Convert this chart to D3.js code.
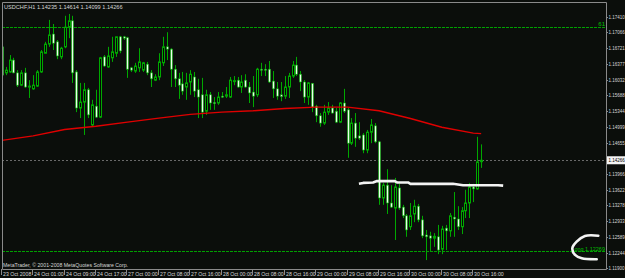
<!DOCTYPE html>
<html>
<head>
<meta charset="utf-8">
<script src="https://cdn.jsdelivr.net/npm/d3@7"></script>
<style>
    body { margin: 0; background: #0b0e0b; }
    svg { display: block; }
    text { font-family: "Liberation Sans", Arial, sans-serif; }
</style>
</head>
<body>
<svg id="chart" width="625" height="278"></svg>
<script>
// USDCHF H1, 23 Oct 2008 17:00 -> 30 Oct 2008 18:00 (one entry per bar)
const barOpen = [
    1.1675,1.1618,1.1620,1.1646,1.1618,1.1591,1.1618,1.1587,1.1583,1.1589,
    1.1620,1.1661,1.1681,1.1703,1.1686,1.1653,1.1675,1.1718,1.1732,1.1620,
    1.1541,1.1554,1.1581,1.1504,1.1545,1.1521,1.1653,1.1631,1.1651,1.1661,
    1.1697,1.1697,1.1695,1.1629,1.1622,1.1629,1.1624,1.1637,1.1618,1.1602,
    1.1609,1.1640,1.1675,1.1670,1.1626,1.1605,1.1594,1.1587,1.1598,1.1609,
    1.1581,1.1570,1.1534,1.1570,1.1553,1.1552,1.1567,1.1567,1.1565,1.1600,
    1.1602,1.1587,1.1602,1.1587,1.1576,1.1570,1.1626,1.1626,1.1626,1.1600,
    1.1583,1.1570,1.1567,1.1587,1.1611,1.1635,1.1615,1.1598,1.1565,1.1595,
    1.1545,1.1524,1.1508,1.1532,1.1541,1.1534,1.1510,1.1552,1.1537,1.1464,
    1.1508,1.1480,1.1482,1.1449,1.1488,1.1502,1.1467,1.1344,1.1372,1.1333,
    1.1322,1.1366,1.1324,1.1305,1.1281,1.1309,1.1326,1.1296,1.1263,1.1261,
    1.1256,1.1259,1.1232,1.1278,1.1272,1.1302,1.1298,1.1281,1.1316,1.1333,
    1.1368,1.1364,1.14235
];
const barHigh = [
    1.1686,1.1631,1.1657,1.1651,1.1624,1.1624,1.1629,1.1602,1.1613,1.1624,
    1.1668,1.1686,1.1734,1.1725,1.1690,1.1675,1.1743,1.1747,1.1743,1.1624,
    1.1596,1.1596,1.1585,1.1559,1.1581,1.1653,1.1657,1.1675,1.1697,1.1697,
    1.1699,1.1699,1.1697,1.1631,1.1640,1.1672,1.1642,1.1642,1.1624,1.1615,
    1.1661,1.1697,1.1707,1.1672,1.1635,1.1618,1.1620,1.1618,1.1624,1.1620,
    1.1605,1.1607,1.1581,1.1576,1.1565,1.1576,1.1576,1.1587,1.1609,1.1611,
    1.1609,1.1613,1.1615,1.1598,1.1611,1.1629,1.1640,1.1637,1.1644,1.1622,
    1.1598,1.1598,1.1611,1.1618,1.1644,1.1653,1.1622,1.1602,1.1598,1.1596,
    1.1548,1.1530,1.1548,1.1554,1.1548,1.1541,1.1554,1.1583,1.1541,1.1519,
    1.1530,1.1510,1.1486,1.1493,1.1517,1.1508,1.1469,1.1377,1.1407,1.1372,
    1.1388,1.1375,1.1329,1.1309,1.1333,1.1340,1.1331,1.1305,1.1274,1.1270,
    1.1267,1.1285,1.1283,1.1285,1.1311,1.1357,1.1326,1.1324,1.1362,1.1377,
    1.1375,1.1478,1.14614
];
const barLow = [
    1.1611,1.1613,1.1618,1.1617,1.1587,1.1589,1.1585,1.1563,1.1581,1.1587,
    1.1618,1.1661,1.1675,1.1668,1.1648,1.1648,1.1672,1.1694,1.1596,1.1532,
    1.1519,1.1482,1.1519,1.1500,1.1519,1.1519,1.1631,1.1629,1.1642,1.1653,
    1.1661,1.1690,1.1607,1.1620,1.1618,1.1620,1.1620,1.1613,1.1587,1.1600,
    1.1602,1.1633,1.1646,1.1587,1.1587,1.1561,1.1570,1.1559,1.1570,1.1565,
    1.1519,1.1519,1.1526,1.1537,1.1537,1.1548,1.1563,1.1563,1.1563,1.1591,
    1.1585,1.1574,1.1585,1.1552,1.1543,1.1565,1.1611,1.1611,1.1596,1.1563,
    1.1559,1.1556,1.1561,1.1563,1.1607,1.1611,1.1578,1.1552,1.1548,1.1532,
    1.1510,1.1500,1.1504,1.1526,1.1529,1.1508,1.1508,1.1530,1.1432,1.1460,
    1.1456,1.1471,1.1442,1.1442,1.1464,1.1464,1.1329,1.1329,1.1309,1.1322,
    1.1252,1.1318,1.1300,1.1259,1.1274,1.1291,1.1291,1.1256,1.1208,1.1228,
    1.1237,1.1221,1.1221,1.1230,1.1259,1.1259,1.1274,1.1265,1.1300,1.1300,
    1.1335,1.1362,1.14099
];
const barClose = [
    1.1613,1.1624,1.1646,1.1618,1.1591,1.1618,1.1587,1.1589,1.1591,1.1620,
    1.1664,1.1681,1.1701,1.1683,1.1655,1.1672,1.1718,1.1732,1.1618,1.1541,
    1.1554,1.1581,1.1526,1.1548,1.1521,1.1651,1.1633,1.1655,1.1664,1.1697,
    1.1666,1.1694,1.1626,1.1624,1.1633,1.1642,1.1640,1.1618,1.1605,1.1609,
    1.1642,1.1675,1.1670,1.1626,1.1605,1.1591,1.1578,1.1596,1.1615,1.1578,
    1.1565,1.1532,1.1570,1.1552,1.1551,1.1565,1.1565,1.1570,1.1602,1.1601,
    1.1587,1.1598,1.1587,1.1574,1.1567,1.1626,1.1625,1.1624,1.1598,1.1583,
    1.1567,1.1566,1.1587,1.1611,1.1635,1.1615,1.1598,1.1565,1.1596,1.1543,
    1.1524,1.1508,1.1532,1.1541,1.1530,1.1510,1.1552,1.1534,1.1464,1.1508,
    1.1475,1.1475,1.1449,1.1488,1.1504,1.1467,1.1344,1.1372,1.1333,1.1324,
    1.1368,1.1322,1.1305,1.1274,1.1305,1.1326,1.1296,1.1261,1.1259,1.1256,
    1.1260,1.1230,1.1276,1.1272,1.1305,1.1298,1.1281,1.1316,1.1333,1.1368,
    1.1364,1.1423,1.14266
];

// moving average (red), read every 8 bars
const maBars   = [0, 8, 16, 24, 32, 40, 48, 56, 64, 72, 80, 88, 96, 104, 112, 120, 122];
const maValues = [1.1470,1.1480,1.1494,1.1501,1.1510,1.1519,1.1527,1.1532,1.1535,
                  1.1540,1.1543,1.1543,1.1535,1.1518,1.1499,1.1486,1.1485];

// hand drawn neckline (white)
const neckBars   = [90.9, 92, 94.5, 95.5, 100, 100.6, 103.4, 104, 114.8, 117.4, 126.3, 127.6];
const neckPrices = [1.1375,1.1377,1.1378,1.1381,1.1381,1.1378,1.1378,1.1375,1.1375,1.1372,1.1372,1.1371];

// hand drawn hook near the right edge
const hookBars   = [151.8, 148.4, 146.3, 145.2, 145.9, 147.6, 151.4];
const hookPrices = [1.12614,1.12608,1.12483,1.12338,1.12192,1.12119,1.12098];

// horizontal levels
const bidPrice = 1.14266;
const longPrice = 1.12269;
const fiboPrice = 1.17178;

// axes
const priceTicks = [1.17410,1.17066,1.16721,1.16377,1.16032,1.15688,1.15344,1.14999,
                    1.14655,1.14311,1.13966,1.13622,1.13278,1.12933,1.12589,1.12244,1.11900];
const timeTickBars = [0, 8, 16, 24, 32, 40, 48, 56, 64, 72, 80, 88, 96, 104, 112, 120];
const timeTickLabels = ["23 Oct 2008","24 Oct 01:00","24 Oct 09:00","24 Oct 17:00",
    "27 Oct 00:00","27 Oct 08:00","27 Oct 16:00","28 Oct 00:00","28 Oct 08:00",
    "28 Oct 16:00","29 Oct 00:00","29 Oct 08:00","29 Oct 16:00","30 Oct 00:00",
    "30 Oct 08:00","30 Oct 16:00"];

const titleText = "USDCHF,H1  1.14235 1.14614 1.14099 1.14266";
const copyText = "MetaTrader, \u00A9 2001-2008 MetaQuotes Software Corp.";

/** Class drawing the MetaTrader style candle chart. */
class CandleChart {
    constructor() {
        this.svg = d3.select('#chart');
        this.frame = {left: 2, top: 2, right: 606, bottom: 269};
        this.bodyWidth = 3;

        this.colors = {
            bg: '#0b0e0b',
            frame: '#8a8a8a',
            wick: '#00a800',
            bullFill: '#050805',
            bearFill: '#eaffea',
            ma: '#e00000',
            text: '#d6d6d6'
        };

        this.x = d3.scaleLinear().domain([0, 120]).range([1.7, 473.3]);
        this.y = d3.scaleLinear().domain([1.119, 1.1741]).range([268.3, 16.7]);

        this.bars = barOpen.map((o, i) => ({
            i: i, open: o, high: barHigh[i], low: barLow[i], close: barClose[i]
        }));
    }

    draw() {
        let f = this.frame;

        this.svg.append('rect')
            .attr('width', 625).attr('height', 278)
            .attr('fill', this.colors.bg);

        this.svg.append('clipPath').attr('id', 'plotClip')
            .append('rect')
            .attr('x', f.left).attr('y', f.top)
            .attr('width', f.right - f.left).attr('height', f.bottom - f.top);

        let plot = this.svg.append('g').attr('clip-path', 'url(#plotClip)');

        this.drawLevels(plot);
        this.drawCandles(plot);
        this.drawLines(plot);
        this.drawFrame();
        this.drawAxes();
    }

    drawLevels(g) {
        let f = this.frame;
        let levels = [
            {p: fiboPrice, color: '#00a000', dash: '3,1'},
            {p: bidPrice, color: '#6a6a6a', dash: '2,2'},
            {p: longPrice, color: '#00a000', dash: '3,1'}
        ];
        g.selectAll('line.level').data(levels).enter()
            .append('line')
            .attr('class', 'level')
            .attr('x1', f.left).attr('x2', f.right)
            .attr('y1', d => Math.round(this.y(d.p)) + 0.5)
            .attr('y2', d => Math.round(this.y(d.p)) + 0.5)
            .attr('stroke', d => d.color)
            .attr('stroke-dasharray', d => d.dash)
            .attr('stroke-width', 1);

        g.append('text')
            .attr('x', f.right - 1).attr('y', this.y(fiboPrice) - 1)
            .attr('text-anchor', 'end')
            .attr('font-size', 6)
            .attr('fill', '#00c000')
            .text('61');

        g.append('text')
            .attr('x', f.right - 1).attr('y', this.y(longPrice) - 0.5)
            .attr('text-anchor', 'end')
            .attr('font-size', 5.5)
            .attr('fill', '#00c000')
            .text('Long 1.12269');
    }

    drawCandles(g) {
        let bw = this.bodyWidth;

        let candle = g.selectAll('g.bar').data(this.bars).enter()
            .append('g').attr('class', 'bar');

        //wicks
        candle.append('line')
            .attr('x1', d => Math.round(this.x(d.i)) + 0.5)
            .attr('x2', d => Math.round(this.x(d.i)) + 0.5)
            .attr('y1', d => this.y(d.high))
            .attr('y2', d => this.y(d.low))
            .attr('stroke', this.colors.wick)
            .attr('stroke-width', 1);

        //bodies, white = bear, dark = bull
        candle.append('rect')
            .attr('x', d => Math.round(this.x(d.i)) - 1 + 0.5)
            .attr('width', bw - 1)
            .attr('y', d => this.y(Math.max(d.open, d.close)))
            .attr('height', d => Math.max(1, Math.abs(this.y(d.open) - this.y(d.close))))
            .attr('fill', d => d.close < d.open ? this.colors.bearFill : this.colors.bullFill)
            .attr('stroke', this.colors.wick)
            .attr('stroke-width', d => d.close < d.open ? 0.6 : 1);
    }

    drawLines(g) {
        let maLine = d3.line()
            .x((d, i) => this.x(maBars[i]))
            .y(d => this.y(d));

        g.append('path')
            .datum(maValues)
            .attr('d', maLine)
            .attr('fill', 'none')
            .attr('stroke', this.colors.ma)
            .attr('stroke-width', 1.4);

        let neckLine = d3.line()
            .x((d, i) => this.x(neckBars[i]))
            .y(d => this.y(d));

        g.append('path')
            .datum(neckPrices)
            .attr('d', neckLine)
            .attr('fill', 'none')
            .attr('stroke', '#f4f4f4')
            .attr('stroke-width', 2.6)
            .attr('stroke-linejoin', 'round');

        let hookLine = d3.line()
            .x((d, i) => this.x(hookBars[i]))
            .y(d => this.y(d))
            .curve(d3.curveCatmullRom);

        g.append('path')
            .datum(hookPrices)
            .attr('d', hookLine)
            .attr('fill', 'none')
            .attr('stroke', '#f4f4f4')
            .attr('stroke-width', 2.6)
            .attr('stroke-linecap', 'round');
    }

    drawFrame() {
        let f = this.frame;
        this.svg.append('path')
            .attr('d', `M${f.left + 0.5},${f.bottom + 0.5}V${f.top + 0.5}H${f.right + 0.5}V${f.bottom + 0.5}H${f.left + 0.5}`)
            .attr('fill', 'none')
            .attr('stroke', this.colors.frame)
            .attr('stroke-width', 1);

        this.svg.append('text')
            .attr('x', 4).attr('y', 8.5)
            .attr('font-size', 5.6)
            .attr('fill', this.colors.text)
            .text(titleText);

        this.svg.append('text')
            .attr('x', 3).attr('y', 267)
            .attr('font-size', 5.2)
            .attr('fill', this.colors.text)
            .text(copyText);
    }

    drawAxes() {
        let f = this.frame;
        let by = this.y(bidPrice);

        //price axis, the label under the bid box is hidden as in the terminal
        let shown = priceTicks.filter(d => Math.abs(this.y(d) - by) > 6);
        let yAxis = this.svg.append('g');
        let pt = yAxis.selectAll('g').data(shown).enter().append('g')
            .attr('transform', d => `translate(${f.right},${Math.round(this.y(d)) + 0.5})`);
        pt.append('line').attr('x1', 0).attr('x2', 2)
            .attr('stroke', this.colors.frame);
        pt.append('text')
            .attr('x', 2.6).attr('dy', '0.35em')
            .attr('font-size', 4.5)
            .attr('fill', this.colors.text)
            .text(d => d3.format('.5f')(d));

        //current bid label
        this.svg.append('rect')
            .attr('x', f.right + 1).attr('y', by - 4)
            .attr('width', 625 - f.right - 1).attr('height', 8)
            .attr('fill', '#f4f4f4');
        this.svg.append('text')
            .attr('x', f.right + 2.6).attr('y', by).attr('dy', '0.35em')
            .attr('font-size', 4.5)
            .attr('fill', '#000')
            .text(d3.format('.5f')(bidPrice));

        //time axis
        let xt = this.svg.append('g').selectAll('g')
            .data(timeTickBars).enter().append('g')
            .attr('transform', d => `translate(${Math.round(this.x(d)) - 0.5},${f.bottom})`);
        xt.append('line').attr('y1', 0).attr('y2', 6)
            .attr('stroke', this.colors.frame);
        xt.append('text')
            .attr('x', 1.5).attr('y', 7.2)
            .attr('font-size', 5.2)
            .attr('fill', this.colors.text)
            .text((d, i) => timeTickLabels[i]);
    }
}

let chart = new CandleChart();
chart.draw();
</script>
</body>
</html>
